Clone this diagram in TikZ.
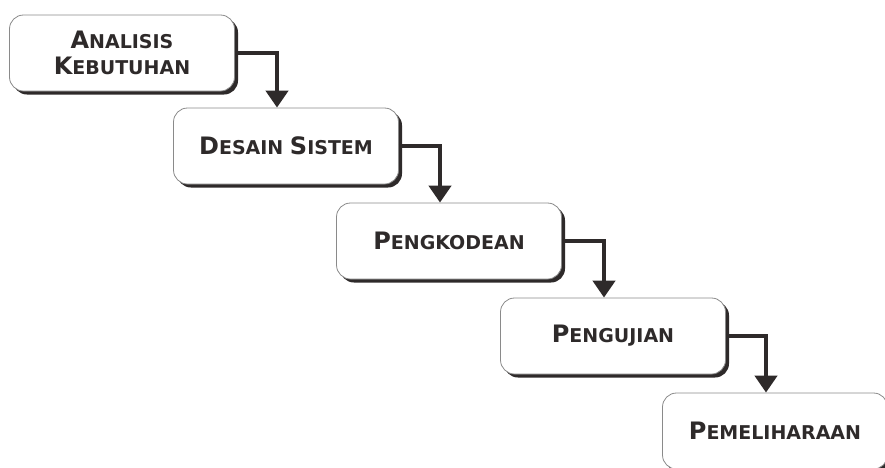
\documentclass[tikz,border=0pt]{standalone}
\usepackage{fontspec}
\setmainfont{DejaVu Sans}
\usetikzlibrary{arrows.meta,shadows}
\definecolor{ink}{HTML}{2E2A2A}
\definecolor{rim}{HTML}{8A8A8A}
% small-caps look: larger initial, smaller capitals after it
\newcommand\capword[2]{{\fontsize{24}{26}\selectfont #1}{\fontsize{19}{26}\selectfont #2}}
\tikzset{
  stage/.style={draw=rim, line width=0.8pt, fill=white, rounded corners=14pt,
    minimum width=225pt, minimum height=76pt, align=center, text=ink,
    font=\fontsize{19}{26}\selectfont\bfseries,
    drop shadow={shadow xshift=3.5pt, shadow yshift=-3.5pt, fill=ink, opacity=1}},
  flow/.style={draw=ink, line width=4.5pt,
    -{Triangle[width=22pt,length=17pt]}}
}
\begin{document}
\begin{tikzpicture}[x=1pt,y=-1pt]
\useasboundingbox (0,0) rectangle (885,467);
\node[stage] (b1) at (122,53) {\capword{A}{NALISIS}\\\capword{K}{EBUTUHAN}};
\node[stage] (b2) at (286,146) {\capword{D}{ESAIN} \capword{S}{ISTEM}};
\node[stage] (b3) at (449,241) {\capword{P}{ENGKODEAN}};
\node[stage] (b4) at (613,336) {\capword{P}{ENGUJIAN}};
\node[stage] (b5) at (775,431) {\capword{P}{EMELIHARAAN}};
\draw[flow] (b1.east) -| ([xshift=-9pt]b2.north);
\draw[flow] (b2.east) -| ([xshift=-9pt]b3.north);
\draw[flow] (b3.east) -| ([xshift=-9pt]b4.north);
\draw[flow] (b4.east) -| ([xshift=-9pt]b5.north);
\end{tikzpicture}
\end{document}
